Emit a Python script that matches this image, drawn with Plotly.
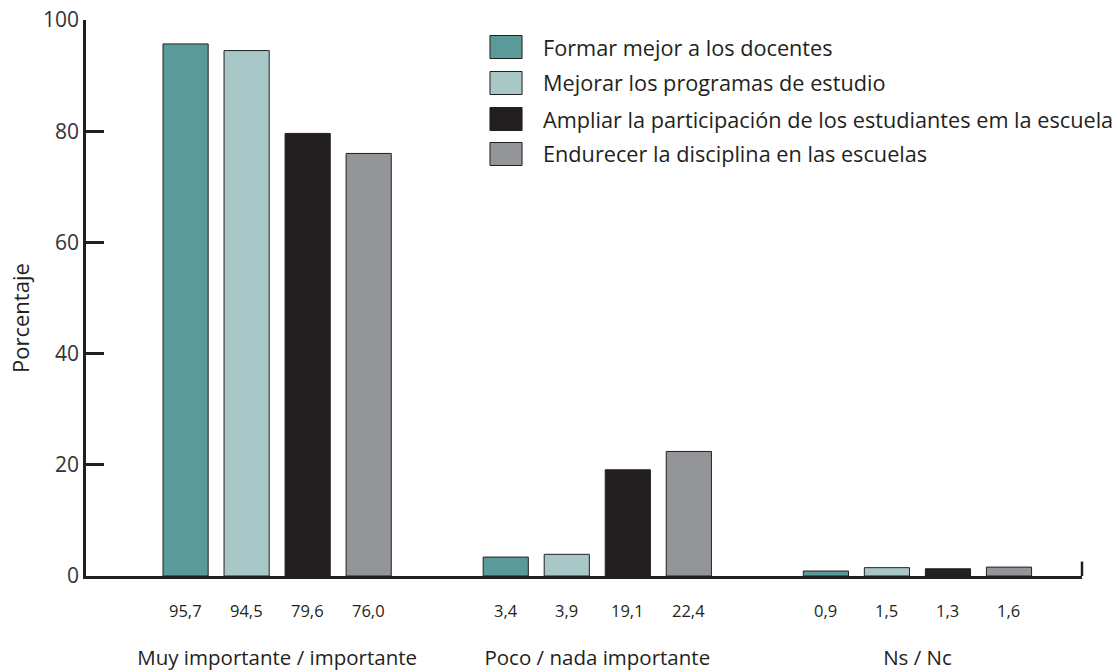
import plotly.graph_objects as go

# --- DATA ---
CATEGORIES = ["Muy importante / importante", "Poco / nada importante", "Ns / Nc"]
SERIES = [
    "Formar mejor a los docentes",
    "Mejorar los programas de estudio",
    "Ampliar la participación de los estudiantes em la escuela",
    "Endurecer la disciplina en las escuelas",
]
FORMAR = [95.7, 3.4, 0.9]
MEJORAR = [94.5, 3.9, 1.5]
AMPLIAR = [79.6, 19.1, 1.3]
ENDURECER = [76.0, 22.4, 1.6]
Y_TICKS = [0, 20, 40, 60, 80, 100]
Y_TITLE = "Porcentaje"

COLORS = ["#5b9a98", "#a7c8c6", "#231f20", "#939598"]
FONT = "Open Sans"
INK = "#231f20"

values = [FORMAR, MEJORAR, AMPLIAR, ENDURECER]
x_idx = list(range(len(CATEGORIES)))

fig = go.Figure()
for name, vals, col in zip(SERIES, values, COLORS):
    fig.add_trace(go.Bar(
        x=x_idx, y=vals, name=name,
        marker=dict(color=col, line=dict(color=INK, width=1)),
        showlegend=False, hoverinfo="x+y",
    ))

# value labels under each bar (bar slot = (1 - bargap) / n series)
bargap = 0.2375
slot = (1 - bargap) / len(SERIES)
for j, vals in enumerate(values):
    for i, v in enumerate(vals):
        fig.add_annotation(
            x=i + (j - (len(SERIES) - 1) / 2) * slot, y=0, yref="y",
            text=f"{v:.1f}".replace(".", ","), showarrow=False,
            yanchor="middle", yshift=-34,
            font=dict(family=FONT, size=16.5, color=INK),
        )

# custom legend with larger swatches
legend_y = [0.9514, 0.8867, 0.8219, 0.759]
for name, col, ly in zip(SERIES, COLORS, legend_y):
    fig.add_shape(type="rect", xref="paper", yref="paper",
                  x0=0.4056, x1=0.4378, y0=ly - 0.0207, y1=ly + 0.0207,
                  fillcolor=col, line=dict(color=INK, width=1))
    fig.add_annotation(xref="paper", yref="paper", x=0.4568, y=ly,
                       text=name, showarrow=False, xanchor="left", yanchor="middle",
                       font=dict(family=FONT, size=21.7, color=INK))

# y title sits a little below the middle of the axis in the original
fig.add_annotation(xref="paper", yref="paper", x=-0.0663, y=0.464,
                   text=Y_TITLE, textangle=-90, showarrow=False,
                   xanchor="center", yanchor="middle",
                   font=dict(family=FONT, size=22, color=INK))

# small end tick on the right of the x axis
fig.add_shape(type="line", xref="paper", yref="y", x0=1, x1=1, y0=0, y1=2.6,
              line=dict(color=INK, width=2.5))

fig.update_layout(
    width=1117, height=670,
    barmode="group", bargap=bargap, bargroupgap=0.26,
    plot_bgcolor="white", paper_bgcolor="white",
    margin=dict(l=86, r=35, t=20, b=94),
    font=dict(family=FONT, color=INK),
    showlegend=False,
)
fig.update_xaxes(
    range=[-0.597, 2.514], tickvals=x_idx, ticktext=CATEGORIES,
    showline=True, linecolor=INK, linewidth=2.5, ticks="",
    showgrid=False, zeroline=False, ticklabelstandoff=62, automargin=False,
    tickfont=dict(family=FONT, size=20.5, color=INK),
)
fig.update_yaxes(
    range=[0, 100], tickvals=Y_TICKS, showline=True, linecolor=INK, linewidth=2.5,
    ticks="inside", ticklen=18, tickwidth=2.5, tickcolor=INK,
    showgrid=False, zeroline=False, automargin=False,
    tickfont=dict(family=FONT, size=21, color="#333333"),
)

# drop the default body margin so the figure fills the window exactly
fig.write_html("out.html", config={"displayModeBar": False},
               post_script="document.body.style.margin = '0';")
